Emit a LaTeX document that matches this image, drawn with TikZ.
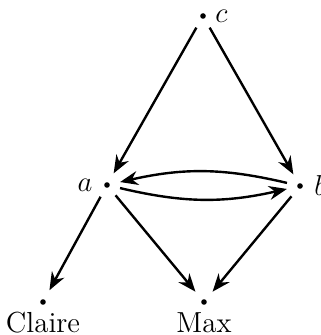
\documentclass[tikz,border=0pt]{standalone}
\usepackage{tikz}
\usetikzlibrary{arrows.meta}

\begin{document}
\begin{tikzpicture}[x=0.5pt,y=-0.5pt,
	font=\fontsize{14.5pt}{17pt}\selectfont,
	pt/.style={circle, inner sep=0pt, minimum size=13pt,
		path picture={\fill (path picture bounding box.center) circle (1.4pt);}},
	edge/.style={line width=1.2pt, -{Stealth[length=9pt,width=7pt]}}]
	\useasboundingbox (0,0) rectangle (320,335);

	% Punkte
	\node[pt, label={[xshift=-4pt]right:$c$}] (c) at (203,16) {};
	\node[pt, label={[xshift=3pt]left:$a$}] (a) at (107,185) {};
	\node[pt, label={[xshift=-3pt]right:$b$}] (b) at (300,186) {};
	\node[pt, label={[yshift=5pt]below:Claire}] (claire) at (43,302) {};
	\node[pt, label={[yshift=5pt]below:Max}] (max) at (204,302) {};

	% Pfeile
	\draw[edge] (c) -- (a);
	\draw[edge] (c) -- (b);
	\draw[edge] (b) to[bend right=13] (a);
	\draw[edge] (a) to[bend right=13] (b);
	\draw[edge] (a) -- (claire);
	\draw[edge] (a) -- (max);
	\draw[edge] (b) -- (max);
\end{tikzpicture}
\end{document}
